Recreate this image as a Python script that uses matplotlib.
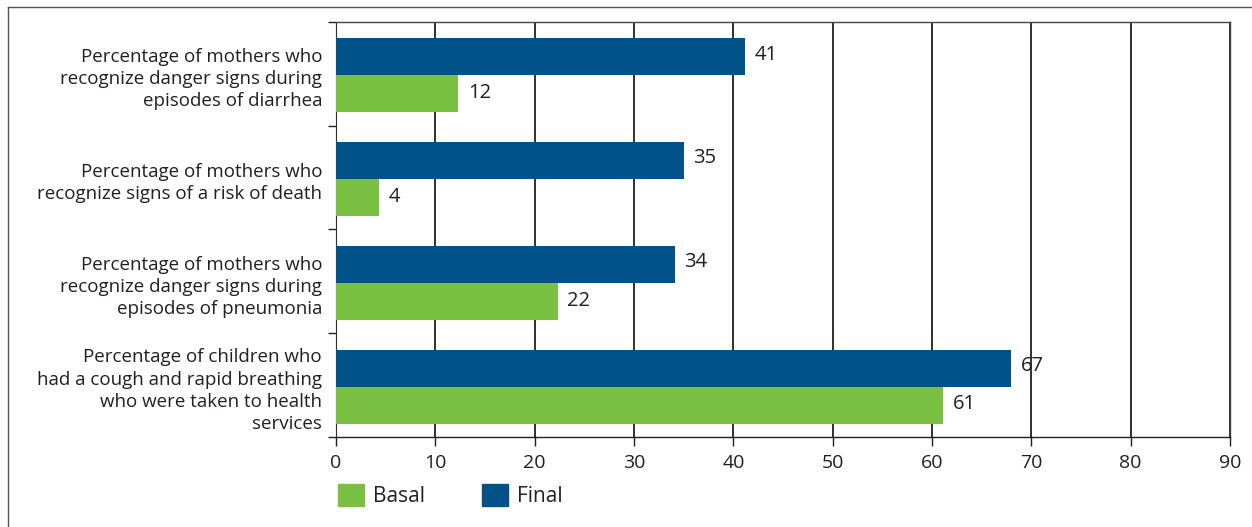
import matplotlib.pyplot as plt
from matplotlib.lines import Line2D
from matplotlib.patches import Patch

plt.rcParams['font.family'] = ['Open Sans', 'DejaVu Sans']

# --- Data ---
categories = [
    "Percentage of mothers who\nrecognize danger signs during\nepisodes of diarrhea",
    "Percentage of mothers who\nrecognize signs of a risk of death",
    "Percentage of mothers who\nrecognize danger signs during\nepisodes of pneumonia",
    "Percentage of children who\nhad a cough and rapid breathing\nwho were taken to health\nservices",
]
final_values = [41.2, 35.0, 34.1, 68.0]   # bar lengths as drawn
final_labels = ["41", "35", "34", "67"]
basal_values = [12.3, 4.3, 22.3, 61.1]
basal_labels = ["12", "4", "22", "61"]

blue = "#02528a"
green = "#7ac143"
ink = "#231f20"

fig = plt.figure(figsize=(12.52, 5.27), dpi=100)
ax = fig.add_axes([336 / 1252, 1 - 437 / 527, (1230 - 336) / 1252, (437 - 21.7) / 527])

pos = range(len(categories))
h = 0.356
y_final = [p - 0.163 for p in pos]
y_basal = [p + 0.193 for p in pos]
ax.barh(y_final, final_values, height=h, color=blue, linewidth=0)
ax.barh(y_basal, basal_values, height=h, color=green, linewidth=0)

for y, v, t in zip(y_final, final_values, final_labels):
    ax.annotate(t, (v, y), xytext=(7, 1.5), textcoords="offset points",
                va="center", ha="left", fontsize=14.5, color=ink)
for y, v, t in zip(y_basal, basal_values, basal_labels):
    ax.annotate(t, (v, y), xytext=(7, 0.5), textcoords="offset points",
                va="center", ha="left", fontsize=14.5, color=ink)

ax.set_xlim(0, 90)
ax.set_ylim(len(categories) - 0.5, -0.5)
ax.set_xticks(range(0, 91, 10))
ax.tick_params(axis="x", direction="out", length=6.5, width=1.0, color=ink,
               labelsize=14, labelcolor=ink, pad=6)
ax.grid(axis="x", color=ink, linewidth=1.3)
ax.set_axisbelow(True)

ax.set_yticks([p - 0.5 for p in range(len(categories) + 1)])
ax.set_yticklabels([])
ax.tick_params(axis="y", which="major", direction="out", length=6, width=1.0, color=ink)
ax.set_yticks([p + 0.015 for p in pos], minor=True)
ax.set_yticklabels(categories, minor=True, fontsize=13.5, color=ink,
                   ha="right", linespacing=1.3)
ax.tick_params(axis="y", which="minor", length=0, pad=10)

ax.spines["left"].set_color("#c0c0c0")
ax.spines["left"].set_zorder(0.5)
ax.spines["top"].set_color("#444444")
ax.spines["right"].set_color("#444444")
ax.spines["bottom"].set_color(ink)
for s in ax.spines.values():
    s.set_linewidth(1.0)

handles = [Patch(color=green, label="Basal"), Patch(color=blue, label="Final")]
fig.legend(handles=handles, loc="upper left", bbox_to_anchor=(338 / 1252, 1 - 484 / 527),
           ncol=2, frameon=False, borderpad=0, borderaxespad=0,
           handlelength=1.25, handleheight=1.25, handletextpad=0.45,
           columnspacing=2.7, fontsize=15, labelcolor=ink)

# outer frame (left and top edges)
fig.add_artist(Line2D([8 / 1252, 8 / 1252], [0, 1 - 7 / 527], transform=fig.transFigure,
                      color="#555555", linewidth=1.0))
fig.add_artist(Line2D([8 / 1252, 1], [1 - 7 / 527, 1 - 7 / 527], transform=fig.transFigure,
                      color="#555555", linewidth=1.0))

fig.savefig("out.png", dpi=100)
